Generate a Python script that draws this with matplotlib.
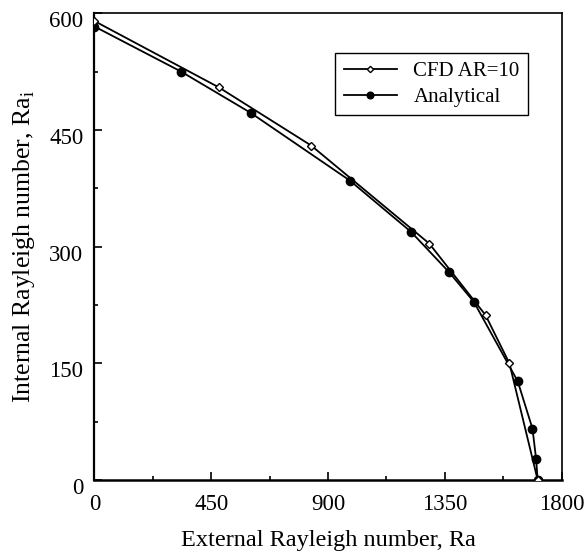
import matplotlib
matplotlib.use("Agg")
import matplotlib.pyplot as plt
import matplotlib.transforms as mtransforms
from matplotlib.ticker import MultipleLocator

plt.rcParams['font.family'] = ['Liberation Serif', 'DejaVu Serif']
plt.rcParams['mathtext.fontset'] = 'custom'
plt.rcParams['mathtext.rm'] = 'Liberation Serif'

cfd_ra = [0, 478, 835, 1290, 1507, 1599, 1708]
cfd_rai = [590, 505, 430, 304, 212, 150, 0]

ana_ra = [0, 334, 602, 984, 1220, 1367, 1462, 1631, 1688, 1702, 1708]
ana_rai = [583, 525, 472, 385, 319, 267, 229, 127, 66, 27, 0]

x_ticks = [0, 450, 900, 1350, 1800]
y_ticks = [0, 150, 300, 450, 600]

fig = plt.figure(figsize=(5.88, 5.51), dpi=100)
ax = fig.add_axes([0.1607, 0.1289, 0.7943, 0.847])

ax.plot(cfd_ra, cfd_rai, color='black', lw=1.3, marker='D', ms=4,
        mfc='white', mec='black', mew=1.0, label='CFD AR=10', zorder=3)
ax.plot(ana_ra, ana_rai, color='black', lw=1.3, marker='o', ms=6,
        mfc='black', mec='black', label='Analytical', zorder=2)

ax.set_xlim(0, 1800)
ax.set_ylim(0, 600)
ax.set_xticks(x_ticks)
ax.set_yticks(y_ticks)
ax.set_xticklabels([str(v) for v in x_ticks])
ax.set_yticklabels([str(v) for v in y_ticks])
ax.xaxis.set_minor_locator(MultipleLocator(225))
ax.yaxis.set_minor_locator(MultipleLocator(75))
ax.tick_params(which='both', direction='in', top=False, right=False,
               labelsize=16.5, width=1.2)
ax.tick_params(which='major', length=6)
ax.tick_params(which='minor', length=3)
ax.tick_params(axis='x', which='major', pad=10)
ax.tick_params(axis='y', which='major', pad=8)

offset = mtransforms.ScaledTranslation(0, -6 / 100, fig.dpi_scale_trans)
for lab in ax.get_yticklabels():
    lab.set_transform(lab.get_transform() + offset)

for s in ax.spines.values():
    s.set_linewidth(1.2)
ax.spines['bottom'].set_linewidth(1.8)
ax.spines['left'].set_linewidth(1.6)

ax.set_xlabel('External Rayleigh number, Ra', fontsize=17.5, labelpad=11)
ax.set_ylabel(r'Internal Rayleigh number, Ra$_\mathregular{i}$', fontsize=18.5, labelpad=9)

leg = ax.legend(loc='upper right', bbox_to_anchor=(0.928, 0.914),
                borderaxespad=0, fancybox=False, framealpha=1,
                edgecolor='black', fontsize=15, handlelength=2.55,
                handletextpad=0.8, borderpad=0.4, labelspacing=0.3,
                markerscale=0.8)
leg.get_frame().set_linewidth(1.0)

fig.savefig('out.png', dpi=100)
